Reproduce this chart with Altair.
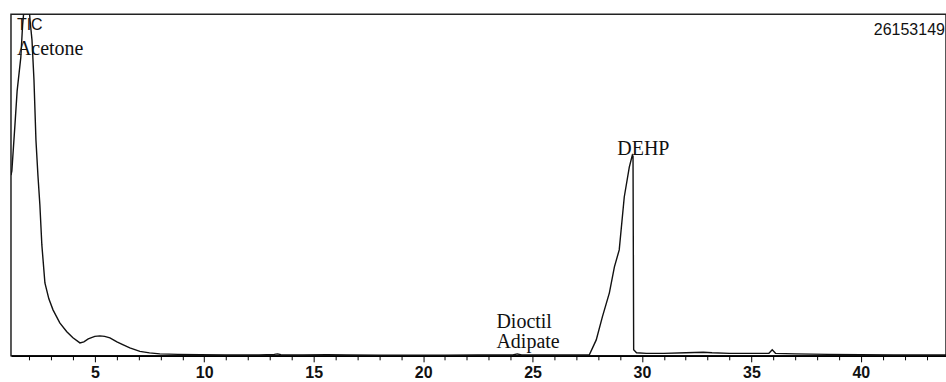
import altair as alt
import pandas as pd

# Retention time (min) and TIC intensity (counts)
time_min = [1.17, 1.21, 1.35, 1.45, 1.62, 1.7, 1.9, 2.04, 2.13, 2.22, 2.31, 2.40, 2.49, 2.58,
            2.72, 2.9, 3.09, 3.4, 3.72, 4.0, 4.32, 4.5, 4.7, 5.0, 5.23, 5.45, 5.69, 6.01,
            6.3, 6.6, 7.06, 7.5, 7.97, 8.8, 9.8, 11.0, 12.5, 13.2, 13.35, 13.5, 14.5, 15.6,
            16.5, 18.0, 19.5, 21.0, 22.5, 24.1, 24.3, 24.5, 25.5, 26.5, 27.3, 27.6, 27.91,
            28.19, 28.51, 28.74, 28.96, 29.19, 29.42, 29.56, 29.59, 29.62, 29.75, 30.2,
            31.0, 32.0, 32.8, 33.2, 34.0, 35.0, 35.8, 35.95, 36.1, 37.0, 38.5, 40.0, 41.5,
            43.0, 43.9]
intensity = [13840000, 14150000, 17660000, 20260000, 22870000, 25310000, 29060000,
             25690000, 24170000, 21110000, 16520000, 13840000, 11550000, 8490000,
             5580000, 4360000, 3520000, 2520000, 1840000, 1380000, 990000, 1070000,
             1300000, 1490000, 1530000, 1490000, 1380000, 1070000, 840000, 610000,
             340000, 230000, 150000, 110000, 80000, 60000, 60000, 110000, 150000,
             80000, 60000, 90000, 60000, 55000, 55000, 55000, 60000, 60000, 150000,
             60000, 60000, 75000, 75000, 90000, 1220000, 2980000, 4820000, 6810000,
             8110000, 12160000, 14450000, 15370000, 15290000, 460000, 230000, 190000,
             190000, 230000, 270000, 230000, 190000, 190000, 190000, 460000, 190000,
             150000, 110000, 80000, 60000, 60000, 60000]

# Peak annotations
peak_labels = ["Acetone", "DEHP", "Dioctil\nAdipate"]
peak_label_time = [1.44, 28.87, 23.35]
peak_label_value = [23020000, 15370000, 2140000]

# Header texts
header_labels = ["TIC", "26153149"]
header_time = [1.44, 43.84]
header_value = [24930000, 24550000]
header_align = ["left", "right"]

# Axis ticks
major_ticks = [5, 10, 15, 20, 25, 30, 35, 40]
minor_ticks = list(range(2, 44))

x_domain = [1.17, 43.89]
y_max = 26153149

trace = pd.DataFrame({"t": time_min, "v": intensity})
peaks = pd.DataFrame({"t": peak_label_time, "v": peak_label_value, "label": peak_labels})
headers = pd.DataFrame({"t": header_time, "v": header_value, "label": header_labels,
                        "align": header_align})

x_scale = alt.Scale(domain=x_domain, nice=False, zero=False)
y_scale = alt.Scale(domain=[0, y_max], nice=False, zero=True)

major_test = "indexof(" + str(major_ticks) + ", datum.value) >= 0"

x_axis = alt.Axis(
    values=minor_ticks,
    labelExpr=major_test + " ? datum.label : ''",
    tickSize={"condition": {"test": major_test, "value": 6}, "value": 4},
    tickColor="black",
    tickWidth=1,
    domainColor="black",
    domainWidth=1.5,
    labelFont="Liberation Sans",
    labelFontSize=16,
    labelFontWeight="bold",
    labelColor="#111111",
    labelPadding=3,
    labelOverlap=False,
    labelFlush=False,
    labelBound=False,
    grid=False,
    title=None,
)

X = alt.X("t:Q", scale=x_scale, axis=x_axis)
Y = alt.Y("v:Q", scale=y_scale, axis=None)

line = alt.Chart(trace).mark_line(color="#111111", strokeWidth=1.4, clip=True).encode(x=X, y=Y)

peak_text = alt.Chart(peaks).mark_text(
    font="Liberation Serif", fontSize=20, align="left", baseline="alphabetic",
    color="#111111", lineBreak="\n", lineHeight=20
).encode(x=X, y=Y, text="label:N")

left_header = alt.Chart(headers[headers["align"] == "left"]).mark_text(
    font="Liberation Sans", fontSize=16, align="left", baseline="alphabetic", color="#111111"
).encode(x=X, y=Y, text="label:N")

right_header = alt.Chart(headers[headers["align"] == "right"]).mark_text(
    font="Liberation Sans", fontSize=16, align="right", baseline="alphabetic", color="#111111"
).encode(x=X, y=Y, text="label:N")

chart = alt.layer(line, peak_text, left_header, right_header).properties(
    width=936,
    height=342,
    padding={"left": 11, "top": 14, "right": 0, "bottom": 26},
    autosize=alt.AutoSizeParams(type="none"),
    background="white",
).configure_view(stroke="#222222", strokeWidth=1.5)

chart.save("out.html", embed_options={"renderer": "svg", "actions": False})
